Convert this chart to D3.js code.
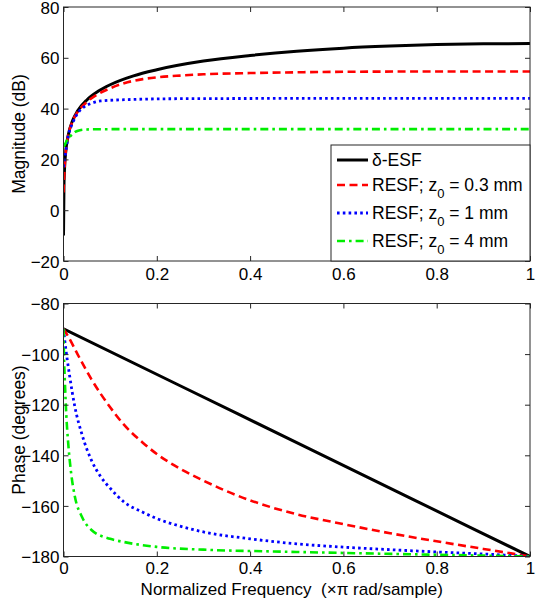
<!DOCTYPE html>
<html>
<head>
<meta charset="utf-8">
<script src="https://cdn.jsdelivr.net/npm/d3@7"></script>
<style>
html,body{margin:0;padding:0;background:#fff;}
svg text{font-family:"Liberation Sans",Arial,sans-serif;fill:#000;}
</style>
</head>
<body>
<svg id="chart" width="537" height="599"></svg>
<script>
// ---------- data ----------
const xTicks = [0, 0.2, 0.4, 0.6, 0.8, 1];
const xTickLabels = ["0", "0.2", "0.4", "0.6", "0.8", "1"];
const magTicks = [-20, 0, 20, 40, 60, 80];
const phaseTicks = [-180, -160, -140, -120, -100, -80];

const seriesNames = ["δ-ESF", "RESF; z0 = 0.3 mm", "RESF; z0 = 1 mm", "RESF; z0 = 4 mm"];

// Magnitude (dB) vs normalized frequency
const magBlackF = [0, 0.001, 0.002, 0.005, 0.01, 0.02, 0.03, 0.05, 0.075, 0.1, 0.15, 0.2, 0.3, 0.4, 0.5, 0.6, 0.7, 0.8, 0.9, 1];
const magBlack  = [-10, 9.4, 15.5, 23.4, 29.4, 35.5, 39.0, 43.4, 46.9, 49.4, 52.9, 55.3, 58.7, 60.9, 62.6, 63.8, 64.6, 65.2, 65.5, 65.6];

const magRedF = [0, 0.002, 0.005, 0.01, 0.02, 0.03, 0.05, 0.075, 0.1, 0.13, 0.17, 0.2, 0.25, 0.3, 0.4, 0.5, 0.6, 0.8, 1];
const magRed  = [7, 15.5, 23.3, 29.3, 35.3, 38.6, 42.6, 45.8, 48.0, 50.0, 51.6, 52.3, 53.0, 53.5, 54.0, 54.3, 54.5, 54.6, 54.6];

const magBlueF = [0, 0.005, 0.01, 0.02, 0.033, 0.045, 0.06, 0.08, 0.13, 0.25, 0.5, 1];
const magBlue  = [17, 23.2, 29.0, 34.5, 38.8, 40.8, 42.1, 43.0, 43.5, 43.9, 44.0, 44.0];

const magGreenF = [0, 0.004, 0.008, 0.015, 0.025, 0.035, 0.05, 0.1, 1];
const magGreen  = [25, 26.2, 27.8, 29.2, 30.8, 31.5, 31.8, 31.9, 31.9];

// Phase (degrees) vs normalized frequency
const phBlackF = [0, 0.25, 0.5, 0.75, 1];
const phBlack  = [-90, -112.5, -135, -157.5, -180];

const phRedF = [0, 0.01, 0.03, 0.06, 0.1, 0.13, 0.17, 0.2, 0.25, 0.3, 0.35, 0.4, 0.45, 0.5, 0.6, 0.7, 0.8, 0.9, 1];
const phRed  = [-90, -93, -100, -110, -121, -128, -135, -139.5, -145.3, -150, -154.2, -157.8, -160.8, -163.3, -167.2, -170.8, -174, -177, -180];

const phBlueF = [0, 0.003, 0.0135, 0.024, 0.04, 0.06, 0.08, 0.1, 0.13, 0.17, 0.2, 0.25, 0.3, 0.4, 0.5, 0.6, 0.7, 0.8, 0.9, 1];
const phBlue  = [-90, -95, -109, -120.5, -132, -142, -148.5, -153, -158.5, -162.5, -165, -168, -170.3, -173, -175, -176.3, -177.3, -178.2, -179, -180];

const phGreenF = [0, 0.001, 0.003, 0.006, 0.01, 0.017, 0.024, 0.04, 0.06, 0.1, 0.13, 0.2, 0.3, 0.45, 0.6, 0.8, 1];
const phGreen  = [-90, -100, -111, -124, -135, -148, -156, -164.5, -169.5, -173, -174.3, -176.2, -177.3, -178, -178.6, -179.3, -180];

// ---------- styles ----------
const colors = ["#000000", "#ff0000", "#0000ff", "#00ee00"];
const dashes = [null, "8,4.5", "2.6,3.2", "8,4,2.6,4"];
const widths = [3, 2.6, 2.8, 2.6];

// ---------- layout ----------
const svg = d3.select("#chart");
const L = 63.5, R = 530;
const top1 = 7, bot1 = 261, top2 = 303.5, bot2 = 556.5;
const x = d3.scaleLinear().domain([0, 1]).range([L, R]);
const yMag = d3.scaleLinear().domain([-20, 80]).range([bot1, top1]);
const yPh = d3.scaleLinear().domain([-180, -80]).range([bot2, top2]);

const defs = svg.append("defs");
defs.append("clipPath").attr("id", "c1").append("rect").attr("x", L).attr("y", top1).attr("width", R - L).attr("height", bot1 - top1);
defs.append("clipPath").attr("id", "c2").append("rect").attr("x", L).attr("y", top2).attr("width", R - L).attr("height", bot2 - top2);

const FS = 17;
const axisColor = "#262626";

function frame(y, yTicks, top, bot, tickLabelY) {
  const g = svg.append("g");
  const xb = d3.axisBottom(x).tickValues(xTicks).tickFormat((d, i) => xTickLabels[i]).tickSizeInner(-5).tickSizeOuter(0);
  const gxb = g.append("g").attr("transform", `translate(0,${bot})`).call(xb);
  gxb.selectAll("text").attr("y", tickLabelY).attr("dy", 0).style("font-size", FS + "px");
  const xt = d3.axisTop(x).tickValues(xTicks).tickFormat("").tickSizeInner(-5).tickSizeOuter(0);
  g.append("g").attr("transform", `translate(0,${top})`).call(xt);
  const yl = d3.axisLeft(y).tickValues(yTicks).tickFormat(d3.format("d")).tickSizeInner(-5).tickSizeOuter(0);
  const gyl = g.append("g").attr("transform", `translate(${L},0)`).call(yl);
  gyl.selectAll("text").attr("x", -4).attr("dy", "0.36em").style("font-size", FS + "px");
  const yr = d3.axisRight(y).tickValues(yTicks).tickFormat("").tickSizeInner(-5).tickSizeOuter(0);
  g.append("g").attr("transform", `translate(${R},0)`).call(yr);
  g.selectAll(".domain").remove();
  g.selectAll(".tick line").attr("stroke", axisColor).attr("stroke-width", 1);
  g.selectAll("text").attr("fill", "#000").style("font-family", "'Liberation Sans', Arial, sans-serif");
  g.append("rect").attr("x", L).attr("y", top).attr("width", R - L).attr("height", bot - top)
    .attr("fill", "none").attr("stroke", axisColor).attr("stroke-width", 1);
}

function drawLine(fs, vs, y, i, clip) {
  const pts = fs.map((f, k) => [f, vs[k]]);
  const line = d3.line().x(d => x(d[0])).y(d => y(d[1])).curve(d3.curveMonotoneX);
  svg.append("path").attr("clip-path", `url(#${clip})`)
    .attr("d", line(pts)).attr("fill", "none")
    .attr("stroke", colors[i]).attr("stroke-width", widths[i])
    .attr("stroke-dasharray", dashes[i]);
}

// ---------- top: magnitude ----------
drawLine(magBlackF, magBlack, yMag, 0, "c1");
drawLine(magRedF, magRed, yMag, 1, "c1");
drawLine(magBlueF, magBlue, yMag, 2, "c1");
drawLine(magGreenF, magGreen, yMag, 3, "c1");
frame(yMag, magTicks, top1, bot1, 19);

// ---------- bottom: phase ----------
drawLine(phBlackF, phBlack, yPh, 0, "c2");
drawLine(phRedF, phRed, yPh, 1, "c2");
drawLine(phBlueF, phBlue, yPh, 2, "c2");
drawLine(phGreenF, phGreen, yPh, 3, "c2");
frame(yPh, phaseTicks, top2, bot2, 17);

// ---------- axis labels ----------
svg.append("text").attr("transform", `translate(25,${(top1 + bot1) / 2}) rotate(-90)`)
  .attr("text-anchor", "middle").style("font-size", "17.5px").text("Magnitude (dB)");
svg.append("text").attr("transform", `translate(25,${(top2 + bot2) / 2}) rotate(-90)`)
  .attr("text-anchor", "middle").style("font-size", "17.5px").text("Phase (degrees)");
svg.append("text").attr("x", (L + R) / 2 - 5).attr("y", 595)
  .attr("text-anchor", "middle").style("font-size", FS + "px").style("white-space", "pre")
  .attr("xml:space", "preserve")
  .text("Normalized Frequency  (\u00D7\u03C0 rad/sample)");

// ---------- legend ----------
const lg = svg.append("g");
const lgX = 331, lgY = 145, lgW = R - 331, lgH = bot1 - 145;
lg.append("rect").attr("x", lgX).attr("y", lgY).attr("width", lgW).attr("height", lgH)
  .attr("fill", "#fff").attr("stroke", axisColor).attr("stroke-width", 1);
const rowY = [160, 185, 213, 241];
seriesNames.forEach((name, i) => {
  lg.append("line").attr("x1", 337).attr("x2", 368).attr("y1", rowY[i]).attr("y2", rowY[i])
    .attr("stroke", colors[i]).attr("stroke-width", widths[i]).attr("stroke-dasharray", dashes[i]);
  const t = lg.append("text").attr("x", 372).attr("y", rowY[i] + 6).style("font-size", "17.5px");
  const m = name.match(/^(.*z)0(.*)$/);
  if (m) {
    t.append("tspan").text(m[1]);
    t.append("tspan").attr("dy", 7).style("font-size", "13px").text("0");
    t.append("tspan").attr("dy", -7).text(m[2]);
  } else {
    t.text(name);
  }
});
</script>
</body>
</html>
